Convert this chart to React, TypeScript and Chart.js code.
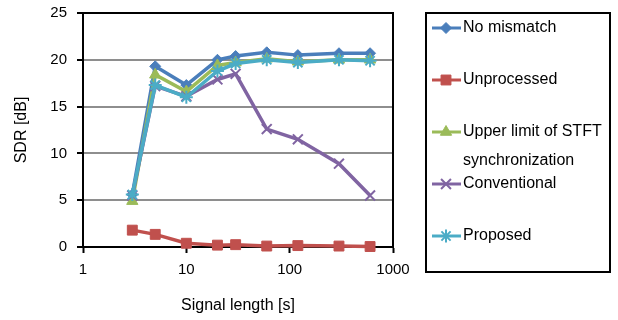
import React, { useEffect, useRef } from "react";
import { Chart, registerables } from "chart.js";
import { drawPoint } from "chart.js/helpers";

Chart.register(...registerables);

const signalLengths = [3, 5, 10, 20, 30, 60, 120, 300, 600];
const noMismatch = [5.6, 19.3, 17.3, 20.0, 20.4, 20.8, 20.5, 20.7, 20.7];
const unprocessed = [1.8, 1.35, 0.4, 0.2, 0.25, 0.1, 0.15, 0.1, 0.05];
const upperLimit = [4.9, 18.4, 16.6, 19.4, 19.7, 20.1, 19.8, 20.0, 20.0];
const conventional = [5.5, 17.2, 16.1, 17.9, 18.5, 12.6, 11.5, 8.9, 5.5];
const proposed = [5.6, 17.3, 16.0, 18.8, 19.6, 20.0, 19.7, 20.0, 19.9];

const xTickValues = [1, 10, 100, 1000];
const seriesNames: (string | string[])[] = [
  "No mismatch",
  "Unprocessed",
  ["Upper limit of STFT", "synchronization"],
  "Conventional",
  "Proposed",
];
const seriesColors = ["#4A7EBB", "#C0504D", "#9BBB59", "#8064A2", "#4BACC6"];
const seriesStyles = ["rectRot", "rect", "triangle", "crossRot", "star"];
const seriesRadius = [5.5, 7, 6.5, 7, 6.5];
const seriesValues = [noMismatch, unprocessed, upperLimit, conventional, proposed];

const FONT = "'Liberation Sans', Arial, sans-serif";

const frame = {
  id: "frame",
  beforeDatasetsDraw(chart: any) {
    const { ctx, chartArea: a } = chart;
    ctx.save();
    ctx.strokeStyle = "#000";
    ctx.lineWidth = 2;
    ctx.strokeRect(a.left, a.top, a.right - a.left, a.bottom - a.top);
    ctx.restore();
  },
};

const customLegend = {
  id: "customLegend",
  afterDraw(chart: any) {
    const { ctx, chartArea: a } = chart;
    const left = a.right + 33;
    const top = a.top;
    const w = 184;
    const h = 259;
    ctx.save();
    ctx.strokeStyle = "#000";
    ctx.lineWidth = 2;
    ctx.strokeRect(left, top, w, h);
    ctx.font = `16px ${FONT}`;
    ctx.textBaseline = "middle";
    ctx.textAlign = "left";
    chart.data.datasets.forEach((ds: any, i: number) => {
      const y = top + 15 + i * 52;
      ctx.strokeStyle = ds.borderColor;
      ctx.lineWidth = 3;
      ctx.beginPath();
      ctx.moveTo(left + 6, y);
      ctx.lineTo(left + 35, y);
      ctx.stroke();
      ctx.fillStyle = ds.borderColor;
      ctx.strokeStyle = ds.borderColor;
      ctx.lineWidth = ds.pointBorderWidth;
      drawPoint(
        ctx,
        { pointStyle: ds.pointStyle, radius: ds.pointRadius, rotation: 0, borderWidth: ds.pointBorderWidth },
        left + 20,
        y
      );
      ctx.fillStyle = "#000";
      const lines = Array.isArray(ds.label) ? ds.label : [ds.label];
      lines.forEach((t: string, j: number) => {
        ctx.fillText(t, left + 37, y + j * 29);
      });
    });
    ctx.restore();
  },
};

export default function App() {
  const ref = useRef<HTMLCanvasElement>(null);
  useEffect(() => {
    document.body.style.margin = "0";
    const datasets = seriesValues.map((vals, i) => ({
      label: seriesNames[i] as any,
      data: vals.map((v, k) => ({ x: signalLengths[k], y: v })),
      borderColor: seriesColors[i],
      backgroundColor: seriesColors[i],
      pointBackgroundColor: seriesColors[i],
      pointBorderColor: seriesColors[i],
      pointStyle: seriesStyles[i],
      pointRadius: seriesRadius[i],
      pointBorderWidth: seriesStyles[i] === "crossRot" || seriesStyles[i] === "star" ? 2 : 1,
      borderWidth: 3.5,
      tension: 0,
      clip: false as any,
      order: 5 - i,
    }));
    const chart = new Chart(ref.current!, {
      type: "line",
      data: { datasets },
      plugins: [frame, customLegend],
      options: {
        animation: false,
        responsive: false,
        layout: { padding: { left: 0, top: 13, right: 225, bottom: 0 } },
        plugins: { legend: { display: false }, tooltip: { enabled: false } },
        scales: {
          x: {
            type: "logarithmic",
            min: 1,
            max: 1000,
            afterBuildTicks: (scale: any) => {
              scale.ticks = xTickValues.map((v) => ({ value: v }));
            },
            afterFit: (scale: any) => {
              scale.height = 73;
              scale.paddingLeft = 0;
              scale.paddingRight = 0;
            },
            ticks: {
              autoSkip: false,
              maxRotation: 0,
              padding: 8,
              color: "#000",
              font: { family: FONT, size: 15 },
              callback: (v: any) => String(v),
            },
            grid: {
              drawOnChartArea: false,
              drawTicks: true,
              tickLength: 6,
              tickColor: "#000",
              tickWidth: 2,
            },
            border: { color: "#000", width: 2 },
            title: {
              display: true,
              text: "Signal length [s]",
              color: "#000",
              font: { family: FONT, size: 16 },
              padding: { top: 0, bottom: 5 },
            },
          },
          y: {
            min: 0,
            max: 25,
            afterFit: (scale: any) => {
              scale.width = 83;
              scale.paddingTop = 0;
              scale.paddingBottom = 0;
            },
            ticks: {
              stepSize: 5,
              padding: 10,
              color: "#000",
              font: { family: FONT, size: 15 },
            },
            grid: {
              color: "#8e8e8e",
              lineWidth: 2,
              tickLength: 6,
              tickColor: "#000",
              tickWidth: 2,
            },
            border: { color: "#000", width: 2 },
            title: {
              display: true,
              text: "SDR [dB]",
              color: "#000",
              font: { family: FONT, size: 16 },
              padding: { top: 12, bottom: 0 },
            },
          },
        },
      },
    });
    return () => chart.destroy();
  }, []);
  return (
    <div style={{ position: "absolute", left: 0, top: 0, width: 618, height: 320 }}>
      <canvas ref={ref} width={618} height={320} />
    </div>
  );
}
